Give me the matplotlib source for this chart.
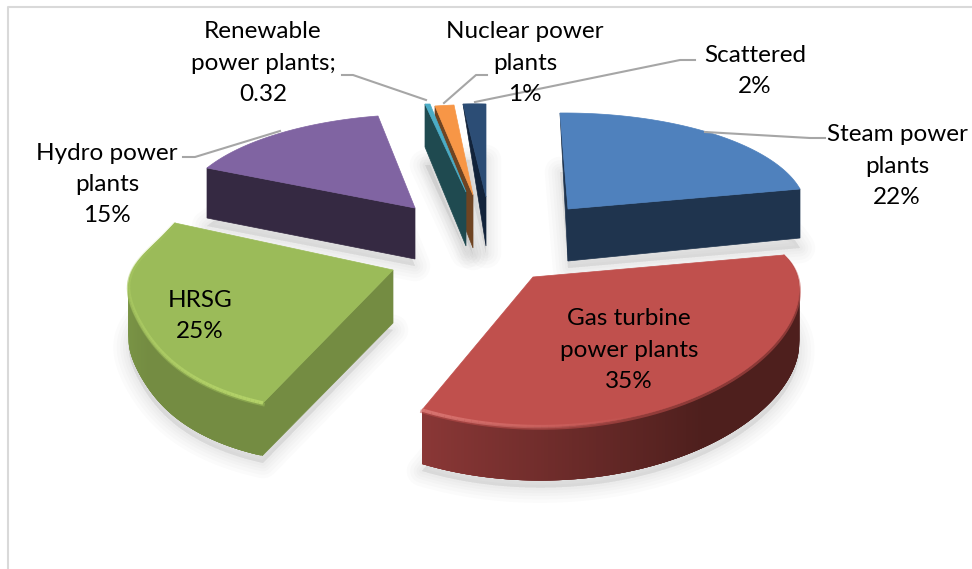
import numpy as np
import matplotlib
matplotlib.use("Agg")
import matplotlib.pyplot as plt
from matplotlib.colors import to_rgb

plt.rcParams['font.family'] = ['Lato', 'DejaVu Sans']

categories = ["Steam power plants", "Gas turbine power plants", "HRSG", "Hydro power plants",
              "Renewable power plants", "Nuclear power plants", "Scattered"]
values = [22, 35, 25, 15, 0.32, 1, 2]
label_texts = ["Steam power\nplants\n22%", "Gas turbine\npower plants\n35%", "HRSG\n25%",
               "Hydro power\nplants\n15%", "Renewable\npower plants;\n0.32",
               "Nuclear power\nplants\n1%", "Scattered\n2%"]

# layout of every exploded slice in pixels: tip, arc start, arc end
tips = [(568, 209), (533, 277), (393, 270), (415, 208), (466, 192), (473, 195), (486, 197)]
arc_starts = [(560, 113), (784, 255), (263, 403), (207, 168), (430, 104), (454, 105), (486, 104)]
arc_ends = [(800, 189), (422, 410), (175, 223), (378, 116), (425, 104), (435, 106), (463, 104)]
tip_depth = [52, 54, 53, 51, 54, 53, 49]
start_face = [0, None, 52, 50, None, None, None]
end_face = [49, None, None, None, 43, 44, 0]
has_wall = [False, True, True, False, False, False, False]
# perspective swell of the arc: amount and where along the arc it peaks
swell = [0, 0.05, 0.05, 0, 0, 0, 0]
swell_skew = [1, 0.365, 2.4, 1, 1, 1, 1]

top_colors = ["#4F81BD", "#C0504D", "#9BBB59", "#8064A2", "#4BACC6", "#F79646", "#2C4D75"]
face_colors = ["#1F344E", "#4E1F1D", "#748C42", "#352942", "#1F4A50", "#6F4422", "#12233A"]
wall_light = [None, "#8C3837", "#82A04B", None, None, None, None]
rim_colors = [None, "#DE7B77", "#B7D66B", None, None, None, None]

label_pos = [(897, 166), (629, 350), (200, 316), (107, 184.5), (263, 63), (525, 63), (755, 71)]
leaders = [[(705, 132), (810, 138), (825, 138)], None, None,
           [(183, 157), (195, 157), (280, 131)],
           [(342, 75), (353, 75), (426, 100)],
           [(487, 75), (476, 75), (444, 103)],
           [(695, 60), (680, 60), (475, 102)]]

draw_order = [6, 5, 4, 0, 3, 2, 1]


def arc_points(i, n=160):
    # sector with the value's angle, squeezed to fit tip and arc ends
    sweep = np.radians(values[i] / sum(values) * 360)
    t = np.linspace(0, sweep, n)
    tip = np.array(tips[i], float)
    a = np.array(arc_starts[i], float) - tip
    b = np.array(arc_ends[i], float) - tip
    w0 = np.sin(sweep - t) / np.sin(sweep)
    w1 = np.sin(t) / np.sin(sweep)
    r = 1 + swell[i] * np.sin(np.pi * (t / sweep) ** swell_skew[i]) ** 3
    return tip[0] + r * (w0 * a[0] + w1 * b[0]), tip[1] + r * (w0 * a[1] + w1 * b[1])


def mix(c1, c2, f):
    c1, c2 = np.array(to_rgb(c1)), np.array(to_rgb(c2))
    return tuple(c1 * (1 - f) + c2 * f)


fig = plt.figure(figsize=(9.72, 5.69), dpi=100)
ax = fig.add_axes([0, 0, 1, 1])
ax.set_xlim(0, 972)
ax.set_ylim(569, 0)
ax.axis('off')

# chart frame
ax.plot([8, 8, 972], [569, 7, 7], color="#D9D9D9", lw=1.5, zorder=1)

# soft floor shadows
for i in range(len(values)):
    x, y = arc_points(i)
    px = np.r_[tips[i][0], x]
    py = np.r_[tips[i][1], y] + tip_depth[i] + 7
    for lw in [22, 17, 12, 8, 4]:
        ax.fill(px, py, facecolor="#808080", edgecolor="#808080", lw=lw, alpha=0.03,
                joinstyle='round', zorder=2)

z = 3
for i in draw_order:
    x, y = arc_points(i)
    tx, ty = tips[i]
    d = tip_depth[i]

    # outer curved wall, built from thin shaded strips
    if has_wall[i]:
        for k in range(len(x) - 2, -1, -1):
            f = np.clip((k / (len(x) - 2) - 0.45) / 0.55, 0, 1)
            c = mix(face_colors[i], wall_light[i], f)
            e = min(k + 4, len(x) - 1)
            ax.fill([x[k], x[e], x[e], x[k]],
                    [y[k], y[e], y[e] + d, y[k] + d],
                    facecolor=c, edgecolor='none', zorder=z)

    # flat cut faces
    if start_face[i] is not None:
        ax.fill([x[0], tx, tx, x[0]], [y[0], ty, ty + d, y[0] + start_face[i]],
                color=face_colors[i], lw=0.5, zorder=z)
    if end_face[i] is not None:
        ax.fill([x[-1], tx, tx, x[-1]], [y[-1], ty, ty + d, y[-1] + end_face[i]],
                color=face_colors[i], lw=0.5, zorder=z)

    # bevel under the rim, top colour bleeding onto the wall
    if has_wall[i]:
        ax.plot(x, y + 1.5, color=top_colors[i], lw=2.5, alpha=0.55, zorder=z + 0.1)

    # top surface
    ax.fill(np.r_[tx, x], np.r_[ty, y], color=top_colors[i], lw=0.5, zorder=z + 0.2)

    # highlight along the rim
    if rim_colors[i] is not None:
        for k in range(0, len(x) - 1, 2):
            f = k / (len(x) - 2)
            if i == 1:
                a = np.clip((f - 0.6) / 0.4, 0, 1) * 0.85
            else:
                a = (1 - f) * 0.8 + 0.1
            ax.plot(x[k:k + 3], y[k:k + 3], color=rim_colors[i], lw=2.5,
                    alpha=float(a), solid_capstyle='butt', zorder=z + 0.3)
    z += 1

# leader lines and labels
for i, cat in enumerate(categories):
    if leaders[i] is not None:
        ax.plot(*zip(*leaders[i]), color="#A6A6A6", lw=1.5, zorder=20)
    ax.text(label_pos[i][0], label_pos[i][1], label_texts[i], ha='center', va='center',
            fontsize=17.5, linespacing=1.6, color="black", zorder=21)

plt.savefig("out.png", dpi=100)
plt.close()
